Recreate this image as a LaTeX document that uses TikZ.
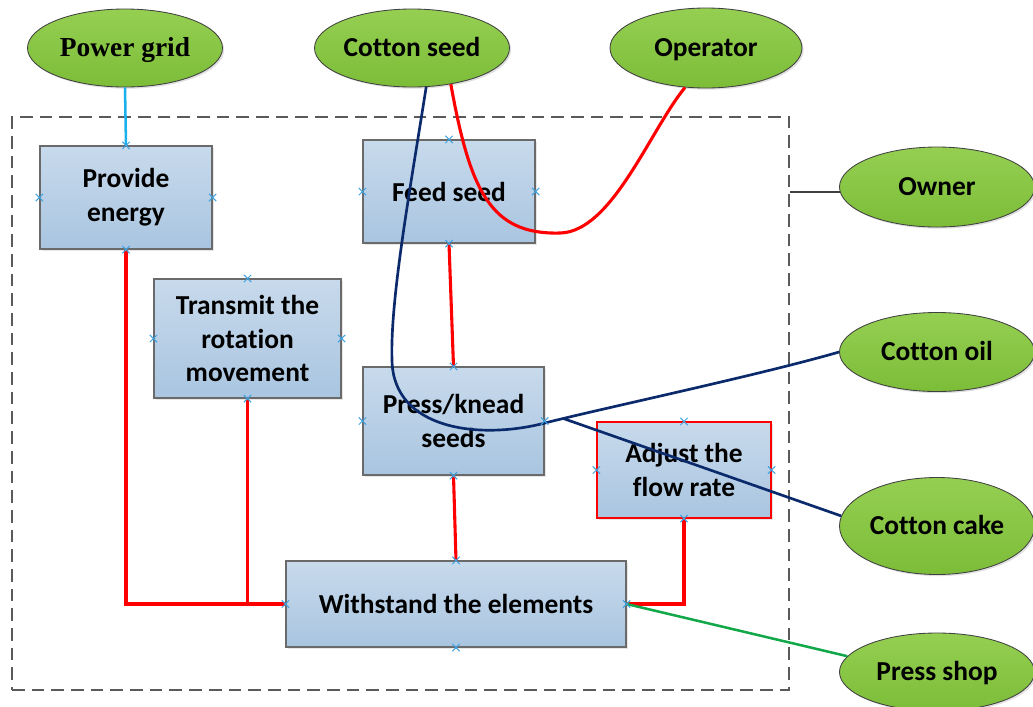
\documentclass[tikz,border=0pt]{standalone}
\usepackage{fontspec}
\setmainfont{Carlito}[Ligatures=NoCommon]
\newfontfamily\timesf{Liberation Serif}
\usetikzlibrary{shapes.geometric,shapes.misc,shadows}
\definecolor{boxtop}{HTML}{C8DAEC}
\definecolor{boxbot}{HTML}{A9C5E0}
\definecolor{elltop}{HTML}{95CF52}
\definecolor{ellbot}{HTML}{7CBD38}
\definecolor{navy}{HTML}{0B2A6C}
\definecolor{xblue}{HTML}{3FA3E0}
\definecolor{cyanline}{HTML}{1AB0EC}
\definecolor{greenline}{HTML}{12A84A}
\definecolor{dashgray}{HTML}{5A5A5A}
\definecolor{bordergray}{HTML}{6A6A6A}
\definecolor{ownergray}{HTML}{404040}
\tikzset{
  bx/.style 2 args={minimum width=#1*0.025cm, minimum height=#2*0.025cm},
  txt/.style={font=\bfseries\fontsize{19.5}{24}\selectfont, align=center, inner sep=0pt},
  ell/.style={ellipse, txt, text height=16.5pt, text depth=4pt, draw=ownergray, line width=0.6pt,
    top color=elltop, bottom color=ellbot,
    drop shadow={shadow xshift=1.2pt, shadow yshift=-1.2pt, opacity=0.25}},
  fbox/.style={rectangle, txt, draw=bordergray, line width=0.8pt, top color=boxtop, bottom color=boxbot,
    drop shadow={shadow xshift=1.5pt, shadow yshift=-1.5pt, opacity=0.2}},
  sysbox/.style={rectangle, draw=dashgray, line width=1pt, dash pattern=on 9pt off 5pt, inner sep=0pt},
  redl/.style={draw=red, line width=2.2pt},
  navyl/.style={draw=navy, line width=1.9pt},
  greenl/.style={draw=greenline, line width=1.8pt},
  cyanl/.style={draw=cyanline, line width=1.8pt},
  grayl/.style={draw=ownergray, line width=1.2pt},
  xm/.style={cross out, draw=xblue, line width=0.7pt, minimum size=4.5pt, inner sep=0pt}
}
\begin{document}
\begin{tikzpicture}[x=0.025cm, y=-0.025cm]
\useasboundingbox (0,0) rectangle (1033,706);
% system boundary
\node[sysbox, bx={777}{573}] (sys) at (400.5,403.5) {};
% external ellipses
\node[ell, bx={195}{78}] (pg) at (125,48) {\timesf\bfseries Power grid};
\node[ell, bx={195}{78}] (cs) at (412,48) {Cotton seed};
\node[ell, bx={192}{80}] (op) at (706,48) {Operator};
\node[ell, bx={195}{80}] (ow) at (937,187) {Owner};
\node[ell, bx={195}{79}] (co) at (937,352) {Cotton oil};
\node[ell, bx={195}{97}] (cc) at (937,526) {Cotton cake};
\node[ell, bx={195}{78}] (ps) at (937,672) {Press shop};
% function boxes
\node[fbox, bx={172}{103}] (pe) at (126,197.5) {Provide\\energy};
\node[fbox, bx={172}{103}] (fs) at (449,191.5) {Feed seed};
\node[fbox, bx={187}{119}] (tr) at (247.5,338.5) {Transmit the\\rotation\\movement};
\node[fbox, bx={181}{108}] (pk) at (453.5,421) {Press/knead\\seeds};
\node[fbox, bx={340}{86}] (ws) at (456,604) {Withstand the elements};
\node[fbox, bx={174}{96}, draw=red] (af) at (684,470) {Adjust the\\flow rate};
% connectors
\draw[cyanl] (pg.south) -- (pe.north);
\draw[redl] (pe.south) |- (ws.west);
\draw[redl] (tr.south) -- (tr.south |- ws.west);
\draw[redl] (fs.south) -- (pk.north);
\draw[redl] (pk.south) -- (ws.north);
\draw[redl] (af.south) |- (ws.east);
\draw[greenl] (ws.east) -- (ps.170);
\draw[grayl] (ow.183) -- (ow.183 -| sys.east);
\draw[redl] (cs.-43) .. controls (470,190) and (490,235) .. (560,233)
  .. controls (612,232) and (650,130) .. (op.-118);
\draw[navyl] (cs.-70) .. controls (410,190) and (390,300) .. (392,360)
  .. controls (393,430) and (480,440) .. (545,423)
  .. controls (595,410) and (760,375) .. (co.west) coordinate[pos=0.1] (j);
\draw[navyl] (j) -- (cc.174);
% connection point markers
\foreach \n in {pe,fs,tr,pk,ws,af}
  \foreach \a in {north,south,east,west}
    \node[xm] at (\n.\a) {};
\end{tikzpicture}
\end{document}
